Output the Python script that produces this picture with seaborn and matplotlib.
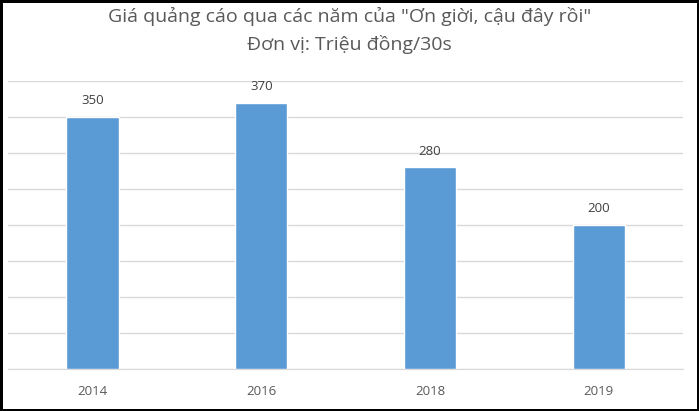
import pandas as pd
import seaborn as sns
import matplotlib.pyplot as plt

# Data
years = ['2014', '2016', '2018', '2019']
prices = [350, 370, 280, 200]
title_line1 = 'Giá quảng cáo qua các năm của "Ơn giời, cậu đây rồi"'
title_line2 = 'Đơn vị: Triệu đồng/30s'

df = pd.DataFrame({'year': years, 'price': prices})

sns.set_style('white')
plt.rcParams['font.family'] = ['Open Sans', 'DejaVu Sans']

fig = plt.figure(figsize=(6.99, 4.11), dpi=100)
fig.patch.set_edgecolor('black')
fig.patch.set_linewidth(2.5)
ax = fig.add_axes([0.0115, 0.102, 0.966, 0.701])

sns.barplot(data=df, x='year', y='price', color='#5b9bd5', width=0.31,
            saturation=1, ax=ax, zorder=3)

ax.set_ylim(0, 400)
ax.set_yticks(range(0, 401, 50))
ax.yaxis.grid(True, color='#d9d9d9', linewidth=1, zorder=0)
ax.set_axisbelow(True)
ax.tick_params(axis='y', left=False, labelleft=False)
ax.tick_params(axis='x', bottom=False, labelsize=9.5, labelcolor='#595959', pad=8)
ax.set_xlabel('')
ax.set_ylabel('')
for s in ['top', 'right', 'left']:
    ax.spines[s].set_visible(False)
ax.spines['bottom'].set_color('#d9d9d9')

for c in ax.containers:
    ax.bar_label(c, fmt='%d', padding=7, fontsize=9.5, color='#404040')

# two-line title, placed by baseline
fig.text(0.5, 0.947, title_line1, ha='center', va='baseline', fontsize=14,
         color='#595959')
fig.text(0.5, 0.879, title_line2, ha='center', va='baseline', fontsize=14,
         color='#595959')

fig.savefig('out.png', dpi=100)
